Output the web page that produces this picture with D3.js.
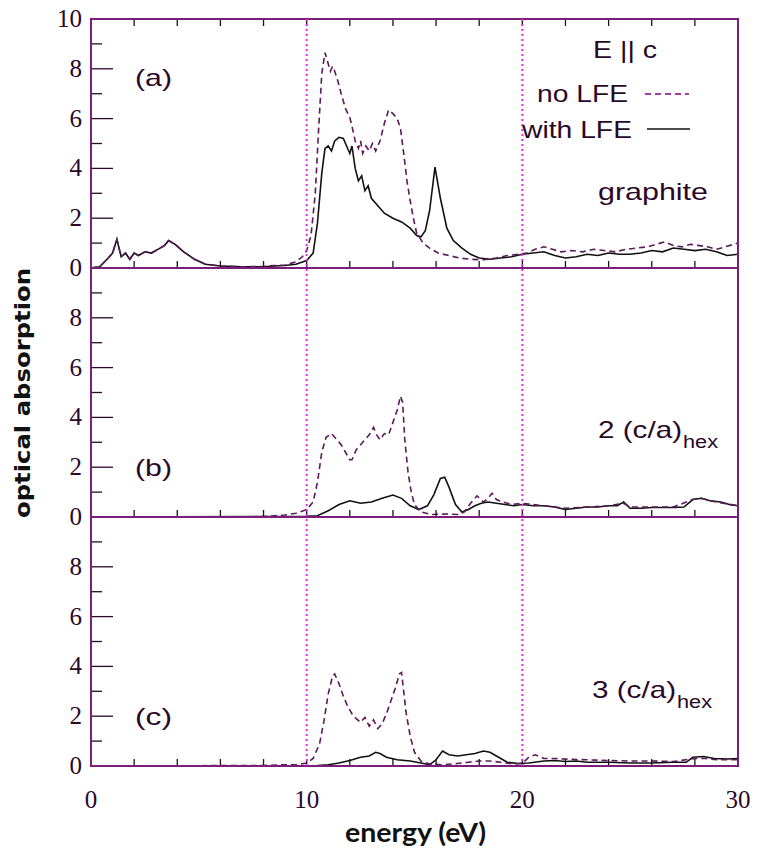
<!DOCTYPE html>
<html><head><meta charset="utf-8">
<script src="https://cdn.jsdelivr.net/npm/d3@7"></script>
<style>html,body{margin:0;padding:0;background:#fff;}svg{display:block;}</style>
</head><body>
<svg id="chart" width="762" height="853"></svg>
<script>
// ---------- data ----------
const xTicks = [0,2,4,6,8,10,12,14,16,18,20,22,24,26,28,30];
const xTickLabels = [0,10,20,30];
const yMajorTicks = [0,2,4,6,8,10];
const yMinorTicks = [1,3,5,7,9];
const markerLines = [10,20];
const panelLabels = ["(a)","(b)","(c)"];
const panelNames = ["graphite","2 (c/a)","3 (c/a)"];
const panelSubs = ["","hex","hex"];
const legendTitle = "E || c";
const seriesNames = ["no LFE","with LFE"];

const aWith = [[0,0],[0.4,0.05],[0.8,0.4],[1.0,0.6],[1.2,1.15],[1.4,0.45],[1.6,0.6],[1.8,0.35],[2.0,0.6],[2.2,0.5],[2.5,0.65],[2.8,0.6],[3.1,0.75],[3.4,0.9],[3.6,1.1],[3.9,0.95],[4.3,0.65],[4.8,0.35],[5.3,0.15],[6,0.08],[7,0.05],[8,0.05],[8.5,0.08],[9,0.1],[9.5,0.15],[10,0.3],[10.3,0.6],[10.5,1.8],[10.7,3.8],[10.85,4.8],[11.0,4.9],[11.15,4.7],[11.3,5.1],[11.5,5.25],[11.7,5.2],[11.85,4.9],[12.0,4.6],[12.1,4.9],[12.25,4.0],[12.4,3.5],[12.55,3.7],[12.7,3.1],[12.85,3.3],[13.0,2.8],[13.3,2.5],[13.6,2.2],[14.0,2.0],[14.4,1.85],[14.8,1.6],[15.1,1.3],[15.3,1.25],[15.5,1.5],[15.7,2.3],[15.95,4.05],[16.2,2.8],[16.5,1.6],[16.8,1.1],[17.2,0.8],[17.6,0.55],[18.0,0.4],[18.5,0.35],[19.0,0.4],[19.5,0.45],[20,0.55],[20.5,0.6],[21,0.65],[21.5,0.5],[22,0.4],[22.5,0.45],[23,0.55],[23.5,0.5],[24,0.6],[24.5,0.55],[25,0.55],[25.5,0.6],[26,0.7],[26.5,0.65],[27,0.8],[27.5,0.75],[28,0.7],[28.5,0.75],[29,0.65],[29.5,0.5],[30,0.55]];
const aNo = [[0,0],[0.4,0.05],[0.8,0.4],[1.0,0.6],[1.2,1.15],[1.4,0.45],[1.6,0.6],[1.8,0.35],[2.0,0.6],[2.2,0.5],[2.5,0.65],[2.8,0.6],[3.1,0.75],[3.4,0.9],[3.6,1.1],[3.9,0.95],[4.3,0.65],[4.8,0.35],[5.3,0.15],[6,0.08],[7,0.05],[8,0.06],[8.5,0.1],[9.0,0.12],[9.5,0.25],[9.8,0.45],[10.0,0.7],[10.2,1.3],[10.4,3.0],[10.55,5.5],[10.7,7.8],[10.85,8.65],[11.0,8.2],[11.1,7.9],[11.2,8.1],[11.3,7.9],[11.45,7.5],[11.6,7.0],[11.8,6.4],[12.0,6.05],[12.1,5.7],[12.25,5.1],[12.4,4.8],[12.5,5.1],[12.6,4.6],[12.75,4.9],[12.9,4.7],[13.05,5.0],[13.2,4.7],[13.4,5.1],[13.6,5.8],[13.8,6.35],[14.0,6.2],[14.2,6.0],[14.35,5.6],[14.5,4.6],[14.65,3.5],[14.8,2.7],[14.95,2.0],[15.1,1.4],[15.4,1.0],[15.7,0.8],[16.1,0.6],[16.6,0.5],[17.1,0.4],[17.6,0.35],[18.2,0.33],[18.8,0.4],[19.3,0.5],[19.8,0.55],[20.2,0.6],[20.6,0.75],[21.0,0.85],[21.4,0.75],[21.8,0.65],[22.3,0.7],[22.8,0.65],[23.3,0.75],[23.8,0.7],[24.3,0.65],[24.8,0.75],[25.3,0.8],[25.8,0.85],[26.2,0.95],[26.6,1.05],[27.0,0.9],[27.4,0.85],[27.8,0.95],[28.2,0.9],[28.6,0.85],[29.0,0.75],[29.4,0.85],[29.8,0.95],[30,1.0]];

const bWith = [[0,0],[8,0.02],[9,0.02],[10,0.03],[10.5,0.05],[11,0.25],[11.5,0.5],[12,0.65],[12.5,0.55],[13,0.6],[13.5,0.75],[14,0.88],[14.4,0.75],[14.8,0.45],[15.2,0.3],[15.6,0.45],[15.9,0.9],[16.2,1.55],[16.4,1.6],[16.6,1.2],[16.9,0.5],[17.2,0.2],[17.5,0.3],[17.8,0.45],[18.1,0.55],[18.4,0.6],[18.8,0.55],[19.2,0.5],[19.6,0.45],[20.0,0.5],[20.5,0.45],[21,0.45],[21.5,0.4],[22,0.3],[22.5,0.35],[23,0.4],[23.5,0.4],[24,0.45],[24.4,0.45],[24.7,0.6],[25,0.35],[25.5,0.35],[26,0.38],[26.5,0.38],[27,0.38],[27.5,0.4],[27.9,0.7],[28.3,0.75],[28.7,0.65],[29.2,0.6],[29.6,0.5],[30,0.45]];
const bNo = [[0,0],[7,0.0],[8,0.02],[8.5,0.05],[9,0.08],[9.5,0.15],[10,0.3],[10.3,0.6],[10.5,1.4],[10.7,2.6],[10.9,3.2],[11.15,3.35],[11.4,3.1],[11.6,2.9],[11.8,2.6],[12.0,2.3],[12.1,2.3],[12.3,2.7],[12.5,2.9],[12.7,3.1],[12.9,3.3],[13.1,3.6],[13.25,3.3],[13.4,3.1],[13.6,3.35],[13.8,3.3],[14.0,3.8],[14.2,4.3],[14.35,4.85],[14.45,4.6],[14.55,3.1],[14.7,1.8],[14.85,1.0],[15.0,0.5],[15.3,0.2],[15.8,0.1],[16.5,0.12],[17.0,0.1],[17.3,0.2],[17.6,0.55],[17.9,0.85],[18.2,0.6],[18.4,0.75],[18.6,0.95],[18.8,0.7],[19.1,0.6],[19.5,0.5],[20.0,0.55],[20.5,0.5],[21,0.45],[22,0.35],[23,0.4],[24,0.45],[24.7,0.55],[25,0.4],[26,0.4],[27,0.4],[27.9,0.7],[28.3,0.75],[29,0.6],[30,0.45]];

const cWith = [[0,0],[10,0.01],[10.5,0.02],[11,0.05],[11.5,0.12],[12,0.22],[12.5,0.35],[12.9,0.4],[13.2,0.55],[13.4,0.5],[13.7,0.35],[14.2,0.25],[14.8,0.2],[15.3,0.12],[15.7,0.05],[16.0,0.25],[16.3,0.6],[16.6,0.45],[17.0,0.4],[17.4,0.45],[17.8,0.5],[18.2,0.6],[18.5,0.55],[18.9,0.35],[19.3,0.15],[19.8,0.1],[20.3,0.12],[21,0.2],[21.5,0.22],[22,0.18],[22.5,0.2],[23,0.15],[24,0.15],[25,0.12],[26,0.12],[27,0.15],[27.6,0.15],[27.9,0.35],[28.4,0.38],[28.9,0.3],[29.5,0.28],[30,0.3]];
const cNo = [[0,0],[8,0.02],[9,0.05],[9.5,0.05],[10,0.12],[10.3,0.3],[10.6,0.9],[10.8,1.8],[11.0,2.9],[11.2,3.6],[11.3,3.7],[11.5,3.3],[11.7,2.8],[11.9,2.4],[12.1,2.1],[12.3,1.9],[12.5,1.75],[12.7,1.95],[12.9,1.6],[13.1,1.85],[13.3,1.5],[13.5,1.7],[13.7,2.1],[13.9,2.6],[14.1,3.1],[14.3,3.7],[14.4,3.75],[14.5,3.0],[14.6,2.2],[14.8,1.2],[15.0,0.55],[15.3,0.2],[15.7,0.08],[16.3,0.05],[17,0.1],[17.5,0.15],[18,0.2],[18.5,0.2],[19,0.15],[19.6,0.08],[20.0,0.1],[20.3,0.35],[20.6,0.45],[21,0.3],[21.5,0.3],[22,0.28],[23,0.25],[24,0.22],[25,0.2],[26,0.2],[27,0.18],[28,0.3],[28.5,0.3],[29,0.25],[30,0.25]];

const panelsNo = [aNo,bNo,cNo];
const panelsWith = [aWith,bWith,cWith];

// ---------- layout ----------
const svg = d3.select("#chart");
const left = 91, right = 738, top0 = 19, panelH = 249;
const frameColor = "#7a1f78", inkColor = "#2a0828", dashColor = "#5c1a5c", markColor = "#e02ee0";
const sans = "Liberation Sans, Arial, sans-serif";
const x = d3.scaleLinear().domain([0,30]).range([left,right]);

function label(sel, txt, xx, yy, anchor, width) {
  const t = sel.append("text").attr("x",xx).attr("y",yy).attr("text-anchor",anchor)
    .attr("font-family",sans).attr("font-size",24).attr("fill",inkColor).text(txt);
  if (width) t.attr("textLength",width).attr("lengthAdjust","spacingAndGlyphs");
  return t;
}

for (let p = 0; p < 3; p++) {
  const pt = top0 + p*panelH, pb = pt + panelH;
  const y = d3.scaleLinear().domain([0,10]).range([pb,pt]);
  const g = svg.append("g");

  const line = d3.line().x(d=>x(d[0])).y(d=>y(d[1])).curve(d3.curveLinear);
  g.append("path").datum(panelsWith[p]).attr("d",line)
    .attr("fill","none").attr("stroke","#111").attr("stroke-width",1.6);
  g.append("path").datum(panelsNo[p]).attr("d",line)
    .attr("fill","none").attr("stroke",dashColor).attr("stroke-width",1.6)
    .attr("stroke-dasharray","6,4");

  g.selectAll(".xt").data(xTicks).enter().append("line")
    .attr("x1",d=>x(d)).attr("x2",d=>x(d)).attr("y1",pb).attr("y2",pb-7)
    .attr("stroke",inkColor).attr("stroke-width",1.3);
  if (p===0) {
    g.selectAll(".xtt").data(xTicks).enter().append("line")
      .attr("x1",d=>x(d)).attr("x2",d=>x(d)).attr("y1",pt).attr("y2",pt+7)
      .attr("stroke",inkColor).attr("stroke-width",1.3);
  }
  g.selectAll(".ymaj").data(yMajorTicks).enter().append("line")
    .attr("x1",left).attr("x2",left+22).attr("y1",d=>y(d)).attr("y2",d=>y(d))
    .attr("stroke",inkColor).attr("stroke-width",1.3);
  g.selectAll(".ymin").data(yMinorTicks).enter().append("line")
    .attr("x1",left).attr("x2",left+11).attr("y1",d=>y(d)).attr("y2",d=>y(d))
    .attr("stroke",inkColor).attr("stroke-width",1.3);
  const labs = p===0 ? yMajorTicks : yMajorTicks.filter(v=>v<10);
  g.selectAll(".yl").data(labs).enter().append("text")
    .attr("x",82).attr("y",d=>y(d)+8)
    .attr("text-anchor","end").attr("font-family","Liberation Serif, serif")
    .attr("font-size",25).attr("fill",inkColor).text(d=>d);

  g.append("rect").attr("x",left).attr("y",pt).attr("width",right-left).attr("height",panelH)
    .attr("fill","none").attr("stroke",frameColor).attr("stroke-width",2);

  label(g, panelLabels[p], 135, pt + (p===0?67:208), "start", 37);

  if (p===0) {
    label(g, panelNames[p], 598, pt+181, "start", 110);
  } else {
    const xs = p===1 ? 598 : 592, ys = pt + (p===1?170:181);
    label(g, panelNames[p], xs, ys, "start", 84);
    g.append("text").attr("x",xs+85).attr("y",ys+10).attr("font-family",sans)
      .attr("font-size",18).attr("fill",inkColor)
      .attr("textLength",35).attr("lengthAdjust","spacingAndGlyphs").text(panelSubs[p]);
  }
}

svg.selectAll(".mk").data(markerLines).enter().append("line")
  .attr("x1",d=>x(d)).attr("x2",d=>x(d)).attr("y1",top0).attr("y2",top0+3*panelH)
  .attr("stroke",markColor).attr("stroke-width",2).attr("stroke-dasharray","2,3");

// legend
label(svg, legendTitle, 593, 58, "start", 64);
label(svg, seriesNames[0], 537, 102, "start", 91);
svg.append("line").attr("x1",645).attr("x2",689).attr("y1",94).attr("y2",94)
  .attr("stroke","#a040a0").attr("stroke-width",1.8).attr("stroke-dasharray","6,4");
label(svg, seriesNames[1], 522, 138, "start", 110);
svg.append("line").attr("x1",647).attr("x2",690).attr("y1",129).attr("y2",129)
  .attr("stroke","#111").attr("stroke-width",1.6);

const bottom = top0 + 3*panelH;
svg.selectAll(".xl").data(xTickLabels).enter().append("text")
  .attr("x",d=>x(d)).attr("y",bottom+42).attr("text-anchor","middle")
  .attr("font-family","Liberation Serif, serif").attr("font-size",25)
  .attr("fill",inkColor).text(d=>d);

svg.append("text").attr("x",345).attr("y",842)
  .attr("font-family","Lato, sans-serif").attr("font-weight","bold").attr("font-size",27)
  .attr("textLength",141).attr("lengthAdjust","spacingAndGlyphs")
  .attr("fill","#111").text("energy (eV)");
svg.append("text").attr("transform","translate(30,393) rotate(-90)").attr("text-anchor","middle")
  .attr("font-family","DejaVu Sans, sans-serif").attr("font-weight","bold").attr("font-size",21)
  .attr("textLength",250).attr("lengthAdjust","spacingAndGlyphs")
  .attr("fill","#111").text("optical absorption");
</script>
</body></html>
